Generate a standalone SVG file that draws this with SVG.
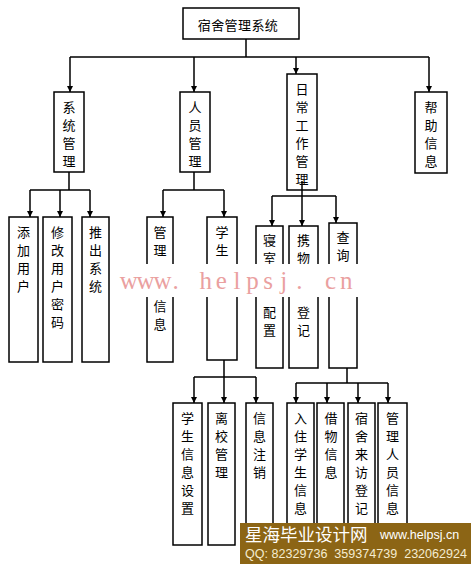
<svg xmlns="http://www.w3.org/2000/svg" width="471" height="564" viewBox="0 0 471 564">
<style>
.box{fill:#fff;stroke:#000;stroke-width:1.5}
.ln{fill:none;stroke:#000;stroke-width:1.5}
.ar{fill:none;stroke:#000;stroke-width:1.5;marker-end:url(#ah)}
.t{font-family:"Noto Sans CJK SC","Noto Sans CJK JP",sans-serif;font-size:13px;fill:#000;text-anchor:middle}
.wm{font-family:"Liberation Serif",serif;font-size:25px;fill:#eaa0a0;text-anchor:middle}
</style>
<defs>
<marker id="ah" markerUnits="userSpaceOnUse" markerWidth="7" markerHeight="7" refX="6" refY="3.5" orient="auto">
<path d="M0,0.5 L6,3.5 L0,6.5 z" fill="#000"/>
</marker>
</defs>
<rect width="471" height="564" fill="#fff"/>

<g id="connectors">
<path class="ln" d="M246,39 V57 M70,57 H429"/>
<path class="ar" d="M70,57 V92"/>
<path class="ar" d="M194,57 V92"/>
<path class="ar" d="M296,57 V74"/>
<path class="ar" d="M429,57 V92"/>
<path class="ln" d="M69,172 V190 M30,190 H90"/>
<path class="ar" d="M30,190 V217"/>
<path class="ar" d="M60,190 V217"/>
<path class="ar" d="M90,190 V217"/>
<path class="ln" d="M194,172 V190 M163,190 H224"/>
<path class="ar" d="M163,190 V217"/>
<path class="ar" d="M224,190 V217"/>
<path class="ln" d="M302,196 H272 M302,196 H336"/>
<path class="ar" d="M272,196 V226"/>
<path class="ar" d="M336,196 V223"/>
<path class="ln" d="M224,360 V377 M194,377 H256"/>
<path class="ar" d="M194,377 V403"/>
<path class="ar" d="M224,377 V403"/>
<path class="ar" d="M256,377 V403"/>
<path class="ln" d="M347,368 V383 M296,383 H388"/>
<path class="ar" d="M296,383 V403"/>
<path class="ar" d="M327,383 V403"/>
<path class="ar" d="M358,383 V403"/>
<path class="ar" d="M388,383 V403"/>
</g>

<g id="root"><rect class="box" x="183" y="8" width="116" height="31"/><text class="t" x="238" y="30" style="letter-spacing:0.4px">宿舍管理系统</text></g>

<g id="n_sys"><rect class="box" x="54" y="92" width="30" height="80"/>
<text class="t"><tspan x="69" y="112">系</tspan><tspan x="69" y="130">统</tspan><tspan x="69" y="148">管</tspan><tspan x="69" y="166">理</tspan></text></g>
<g id="n_people"><rect class="box" x="180" y="92" width="30" height="80"/>
<text class="t"><tspan x="195" y="112">人</tspan><tspan x="195" y="130">员</tspan><tspan x="195" y="148">管</tspan><tspan x="195" y="166">理</tspan></text></g>
<g id="n_daily"><rect class="box" x="287" y="74" width="30" height="116"/>
<text class="t"><tspan x="302" y="94">日</tspan><tspan x="302" y="112">常</tspan><tspan x="302" y="130">工</tspan><tspan x="302" y="148">作</tspan><tspan x="302" y="166">管</tspan><tspan x="302" y="184">理</tspan></text></g>
<g id="n_help"><rect class="box" x="415" y="92" width="32" height="81"/>
<text class="t"><tspan x="431" y="112">帮</tspan><tspan x="431" y="130">助</tspan><tspan x="431" y="148">信</tspan><tspan x="431" y="166">息</tspan></text></g>

<path class="ar" d="M302,181 V226"/>

<g id="n_add"><rect class="box" x="9" y="217" width="29" height="145"/>
<text class="t"><tspan x="23.5" y="237">添</tspan><tspan x="23.5" y="255">加</tspan><tspan x="23.5" y="273">用</tspan><tspan x="23.5" y="291">户</tspan></text></g>
<g id="n_pwd"><rect class="box" x="43" y="217" width="29" height="145"/>
<text class="t"><tspan x="57.5" y="237">修</tspan><tspan x="57.5" y="255">改</tspan><tspan x="57.5" y="273">用</tspan><tspan x="57.5" y="291">户</tspan><tspan x="57.5" y="309">密</tspan><tspan x="57.5" y="327">码</tspan></text></g>
<g id="n_exit"><rect class="box" x="82" y="217" width="27" height="145"/>
<text class="t"><tspan x="95.5" y="237">推</tspan><tspan x="95.5" y="255">出</tspan><tspan x="95.5" y="273">系</tspan><tspan x="95.5" y="291">统</tspan></text></g>

<g id="n_admin"><rect class="box" x="147" y="217" width="26" height="145"/>
<text class="t"><tspan x="160" y="237">管</tspan><tspan x="160" y="255">理</tspan><tspan x="160" y="311">信</tspan><tspan x="160" y="329">息</tspan></text></g>
<g id="n_stu"><rect class="box" x="207" y="217" width="30" height="143"/>
<text class="t"><tspan x="222" y="237">学</tspan><tspan x="222" y="255">生</tspan></text></g>

<g id="n_room"><rect class="box" x="256" y="226" width="27" height="142"/>
<text class="t"><tspan x="269.5" y="245">寝</tspan><tspan x="269.5" y="263">室</tspan><tspan x="269.5" y="317">配</tspan><tspan x="269.5" y="335">置</tspan></text></g>
<g id="n_carry"><rect class="box" x="289" y="226" width="29" height="142"/>
<text class="t"><tspan x="303.5" y="245">携</tspan><tspan x="303.5" y="263">物</tspan><tspan x="303.5" y="317">登</tspan><tspan x="303.5" y="335">记</tspan></text></g>
<g id="n_query"><rect class="box" x="329" y="223" width="28" height="145"/>
<text class="t"><tspan x="343" y="242">查</tspan><tspan x="343" y="260">询</tspan></text></g>

<g id="n_stuset"><rect class="box" x="173" y="403" width="29" height="142"/>
<text class="t"><tspan x="187.5" y="423">学</tspan><tspan x="187.5" y="441">生</tspan><tspan x="187.5" y="459">信</tspan><tspan x="187.5" y="477">息</tspan><tspan x="187.5" y="495">设</tspan><tspan x="187.5" y="513">置</tspan></text></g>
<g id="n_leave"><rect class="box" x="208" y="403" width="27" height="142"/>
<text class="t"><tspan x="221.5" y="423">离</tspan><tspan x="221.5" y="441">校</tspan><tspan x="221.5" y="459">管</tspan><tspan x="221.5" y="477">理</tspan></text></g>
<g id="n_cancel"><rect class="box" x="246" y="403" width="27" height="142"/>
<text class="t"><tspan x="259.5" y="423">信</tspan><tspan x="259.5" y="441">息</tspan><tspan x="259.5" y="459">注</tspan><tspan x="259.5" y="477">销</tspan></text></g>

<g id="n_resident"><rect class="box" x="287" y="403" width="27" height="142"/>
<text class="t"><tspan x="300.5" y="423">入</tspan><tspan x="300.5" y="441">住</tspan><tspan x="300.5" y="459">学</tspan><tspan x="300.5" y="477">生</tspan><tspan x="300.5" y="495">信</tspan><tspan x="300.5" y="513">息</tspan></text></g>
<g id="n_borrow"><rect class="box" x="317" y="403" width="27" height="142"/>
<text class="t"><tspan x="331" y="423">借</tspan><tspan x="331" y="441">物</tspan><tspan x="331" y="459">信</tspan><tspan x="331" y="477">息</tspan></text></g>
<g id="n_visit"><rect class="box" x="348" y="403" width="27" height="142"/>
<text class="t"><tspan x="361.5" y="423">宿</tspan><tspan x="361.5" y="441">舍</tspan><tspan x="361.5" y="459">来</tspan><tspan x="361.5" y="477">访</tspan><tspan x="361.5" y="495">登</tspan><tspan x="361.5" y="513">记</tspan></text></g>
<g id="n_staff"><rect class="box" x="378" y="403" width="29" height="142"/>
<text class="t"><tspan x="392.5" y="423">管</tspan><tspan x="392.5" y="441">理</tspan><tspan x="392.5" y="459">人</tspan><tspan x="392.5" y="477">员</tspan><tspan x="392.5" y="495">信</tspan><tspan x="392.5" y="513">息</tspan></text></g>

<g id="watermark">
<rect x="112" y="264" width="252" height="33" fill="#fff"/>
<text class="wm" y="289"><tspan x="145" letter-spacing="-1.2">www</tspan><tspan x="175.6">.</tspan><tspan x="205.8">h</tspan><tspan x="221.4">e</tspan><tspan x="237">l</tspan><tspan x="252.6">p</tspan><tspan x="268.2">s</tspan><tspan x="283.8">j</tspan><tspan x="299.4">.</tspan><tspan x="330.6">c</tspan><tspan x="346.2">n</tspan></text>
</g>

<g id="banner">
<rect x="240" y="523" width="231" height="41" fill="#8c6515"/>
<text x="245" y="541" font-family="Noto Sans CJK SC, sans-serif" font-size="17.5" fill="#fff">星海毕业设计网</text>
<text x="380" y="539" font-family="Liberation Sans, Arial, sans-serif" font-size="12.5" fill="#fff">www.helpsj.cn</text>
<text x="245" y="557.5" font-family="Liberation Sans, Arial, sans-serif" font-size="12.5" fill="#f5ecd0" textLength="222" lengthAdjust="spacingAndGlyphs" style="white-space:pre">QQ: 82329736  359374739  232062924</text>
</g>
</svg>
